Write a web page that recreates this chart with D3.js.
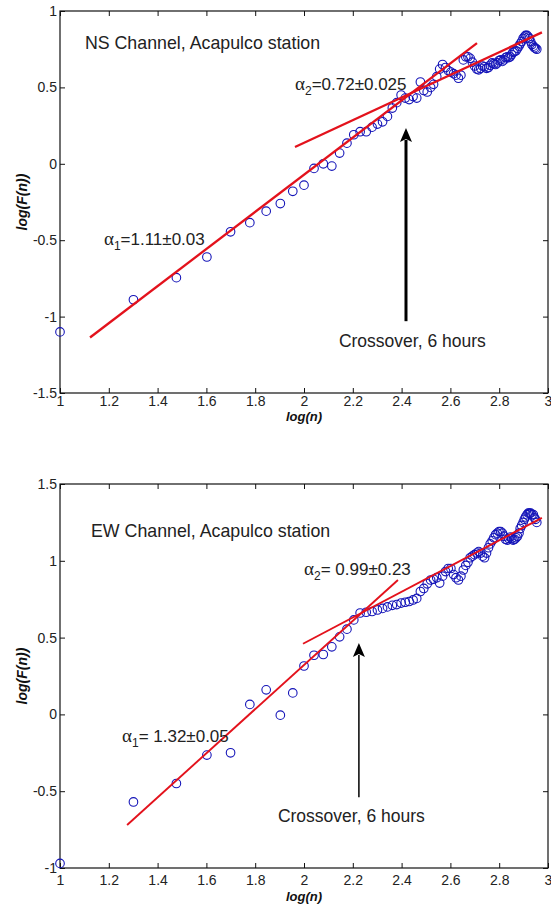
<!DOCTYPE html>
<html><head><meta charset="utf-8">
<script src="https://cdn.jsdelivr.net/npm/d3@7"></script>
<style>body{margin:0;background:#fff}svg{display:block}</style>
</head><body><svg id="c" width="551" height="909"></svg>
<script>
// ---------- data ----------
const xTicks = [1, 1.2, 1.4, 1.6, 1.8, 2, 2.2, 2.4, 2.6, 2.8, 3];
const nsYTicks = [-1.5, -1, -0.5, 0, 0.5, 1];
const ewYTicks = [-1, -0.5, 0, 0.5, 1, 1.5];

const logN = [
  1.000,1.301,1.477,1.602,1.699,1.778,1.845,1.903,1.954,2.000,
  2.041,2.079,2.114,2.146,2.176,2.204,2.230,2.255,2.279,2.301,
  2.322,2.342,2.362,2.380,2.398,2.415,2.431,2.447,2.462,2.477,
  2.491,2.505,2.519,2.531,2.544,2.556,2.568,2.580,2.591,2.602,
  2.613,2.623,2.633,2.643,2.653,2.663,2.672,2.681,2.690,2.699,
  2.708,2.716,2.724,2.732,2.740,2.748,2.756,2.763,2.771,2.778,
  2.785,2.792,2.799,2.806,2.813,2.820,2.826,2.833,2.839,2.845,
  2.851,2.857,2.863,2.869,2.875,2.881,2.886,2.892,2.898,2.903,
  2.908,2.914,2.919,2.924,2.929,2.934,2.940,2.944,2.949,2.954];

const nsLogF = [
  -1.10,-0.89,-0.745,-0.61,-0.445,-0.385,-0.31,-0.26,-0.18,-0.14,
  -0.03,0.0,-0.015,0.07,0.135,0.19,0.21,0.21,0.24,0.26,
  0.275,0.31,0.365,0.40,0.45,0.43,0.42,0.44,0.43,0.535,
  0.48,0.47,0.50,0.52,0.57,0.62,0.65,0.63,0.61,0.60,
  0.59,0.58,0.56,0.58,0.68,0.70,0.70,0.69,0.665,0.64,
  0.62,0.615,0.625,0.64,0.635,0.625,0.63,0.645,0.66,0.655,
  0.65,0.66,0.675,0.68,0.67,0.68,0.695,0.70,0.695,0.70,
  0.715,0.73,0.735,0.74,0.755,0.77,0.785,0.80,0.82,0.83,
  0.84,0.84,0.83,0.82,0.80,0.78,0.77,0.76,0.755,0.75];

const ewLogF = [
  -0.97,-0.57,-0.45,-0.265,-0.25,0.065,0.16,-0.005,0.14,0.315,
  0.385,0.39,0.44,0.505,0.555,0.615,0.66,0.665,0.67,0.68,
  0.69,0.70,0.71,0.715,0.725,0.73,0.735,0.745,0.755,0.80,
  0.82,0.85,0.875,0.88,0.89,0.855,0.90,0.93,0.95,0.95,
  0.91,0.89,0.875,0.90,0.94,0.97,0.99,1.02,1.03,1.04,
  1.05,1.06,1.05,1.03,1.02,1.05,1.085,1.11,1.13,1.15,
  1.17,1.18,1.19,1.19,1.18,1.16,1.14,1.135,1.145,1.155,
  1.145,1.135,1.14,1.15,1.16,1.18,1.21,1.23,1.25,1.27,
  1.285,1.30,1.31,1.31,1.31,1.30,1.30,1.28,1.27,1.25];

// fitted lines (endpoints)
const nsFit1X = [1.123, 2.709], nsFit1Y = [-1.137, 0.79];
const nsFit2X = [1.963, 2.975], nsFit2Y = [0.11, 0.86];
const ewFit1X = [1.275, 2.385], ewFit1Y = [-0.72, 0.875];
const ewFit2X = [1.996, 2.975], ewFit2Y = [0.46, 1.28];

// crossover arrows: x, y from, y to (tip)
const nsArrow = [2.418, -1.03, 0.235];
const ewArrow = [2.225, -0.54, 0.465];

// ---------- drawing ----------
const svg = d3.select('#c');
svg.append('rect').attr('width',551).attr('height',909).attr('fill','#fff');
const SANS = '"Liberation Sans", Arial, Helvetica, sans-serif';
const SERIF = '"Liberation Serif", "Times New Roman", serif';
const fmt = d => String(d);

function panel(cfg){
  const x = d3.scaleLinear().domain([1,3]).range([60,548]);
  const y = d3.scaleLinear().domain(cfg.yDomain).range([cfg.bottom, cfg.top]);
  const g = svg.append('g');

  // frame
  g.append('rect').attr('x',60).attr('y',cfg.top).attr('width',488)
   .attr('height',cfg.bottom-cfg.top).attr('fill','none').attr('stroke','#111').attr('stroke-width',1.2);

  const style = sel => {
    sel.select('.domain').remove();
    sel.selectAll('.tick line').attr('stroke','#111');
    sel.selectAll('.tick text').attr('fill','#222').attr('font-size',14).attr('font-family',SANS);
  };
  g.append('g').attr('transform',`translate(0,${cfg.bottom})`)
   .call(d3.axisBottom(x).tickValues(xTicks).tickFormat(fmt).tickSizeInner(-5).tickSizeOuter(0).tickPadding(cfg.xPad))
   .call(style);
  g.append('g').attr('transform',`translate(0,${cfg.top})`)
   .call(d3.axisTop(x).tickValues(xTicks).tickFormat('').tickSizeInner(-5).tickSizeOuter(0))
   .call(style);
  g.append('g').attr('transform',`translate(60,0)`)
   .call(d3.axisLeft(y).tickValues(cfg.yTicks).tickFormat(fmt).tickSizeInner(-5).tickSizeOuter(0).tickPadding(3))
   .call(style);
  g.append('g').attr('transform',`translate(548,0)`)
   .call(d3.axisRight(y).tickValues(cfg.yTicks).tickFormat('').tickSizeInner(-5).tickSizeOuter(0))
   .call(style);

  // axis labels
  g.append('text').attr('x',304).attr('y',cfg.xLabelY).attr('text-anchor','middle')
   .attr('font-family',SANS).attr('font-size',13).attr('font-weight','bold').attr('font-style','italic')
   .attr('fill','#111').text('log(n)');
  g.append('text').attr('transform',`translate(27,${(cfg.top+cfg.bottom)/2}) rotate(-90)`)
   .attr('text-anchor','middle')
   .attr('font-family',SANS).attr('font-size',14).attr('font-weight','bold').attr('font-style','italic')
   .attr('fill','#111').text('log(F(n))');

  // points
  g.append('g').selectAll('circle').data(logN.map((v,i)=>[v,cfg.vals[i]])).join('circle')
   .attr('cx',d=>x(d[0])).attr('cy',d=>y(d[1])).attr('r',4.3)
   .attr('fill','none').attr('stroke','#1414b8').attr('stroke-width',1.1);

  // fit lines
  const line = d3.line().x(d=>x(d[0])).y(d=>y(d[1]));
  cfg.fits.forEach(f=>{
    g.append('path').attr('d',line(f[0].map((v,i)=>[v,f[1][i]])))
     .attr('fill','none').attr('stroke','#e3121c').attr('stroke-width',cfg.fitW);
  });

  // arrow
  const [ax, ay0, ay1] = cfg.arrow;
  const tipX = x(ax), tipY = y(ay1), baseY = tipY + 14;
  g.append('line').attr('x1',tipX).attr('x2',tipX).attr('y1',y(ay0)).attr('y2',baseY-2)
   .attr('stroke','#000').attr('stroke-width',cfg.arrowW);
  g.append('path').attr('d',`M${tipX},${tipY} L${tipX-6},${baseY} L${tipX},${baseY-3} L${tipX+6},${baseY} Z`)
   .attr('fill','#000');

  // texts
  const tcol = '#222';
  g.append('text').attr('x',x(cfg.title[1])).attr('y',y(cfg.title[2]))
   .attr('font-family',SANS).attr('font-size',17.8).attr('fill',tcol).text(cfg.title[0]);
  g.append('text').attr('x',x(cfg.cross[1])).attr('y',y(cfg.cross[2]))
   .attr('font-family',SANS).attr('font-size',17.5).attr('fill',tcol).text(cfg.cross[0]);
  cfg.alphas.forEach(a=>{
    const t = g.append('text').attr('x',x(a[2])).attr('y',y(a[3]))
      .attr('font-family',SANS).attr('font-size',17).attr('fill',tcol);
    t.append('tspan').attr('font-family',SERIF).attr('font-size',19).text('α');
    t.append('tspan').attr('font-size',12).attr('dy',5).text(a[0]);
    t.append('tspan').attr('dy',-5).text(a[1]);
  });
}

panel({
  yDomain:[-1.5,1], top:11, bottom:393, yTicks:nsYTicks, xPad:3, xLabelY:421,
  vals:nsLogF, fits:[[nsFit1X,nsFit1Y],[nsFit2X,nsFit2Y]], fitW:2.3,
  arrow:nsArrow, arrowW:3,
  title:['NS Channel, Acapulco station',1.102,0.752],
  cross:['Crossover, 6 hours',2.143,-1.196],
  alphas:[['2','=0.72±0.025',1.963,0.484],['1','=1.11±0.03',1.18,-0.53]]
});
panel({
  yDomain:[-1,1.5], top:484, bottom:868, yTicks:ewYTicks, xPad:7, xLabelY:901,
  vals:ewLogF, fits:[[ewFit1X,ewFit1Y],[ewFit2X,ewFit2Y]], fitW:1.9,
  arrow:ewArrow, arrowW:1.5,
  title:['EW Channel, Acapulco station',1.127,1.154],
  cross:['Crossover, 6 hours',1.893,-0.70],
  alphas:[['2','= 0.99±0.23',2.0,0.907],['1','= 1.32±0.05',1.254,-0.18]]
});
</script></body></html>
